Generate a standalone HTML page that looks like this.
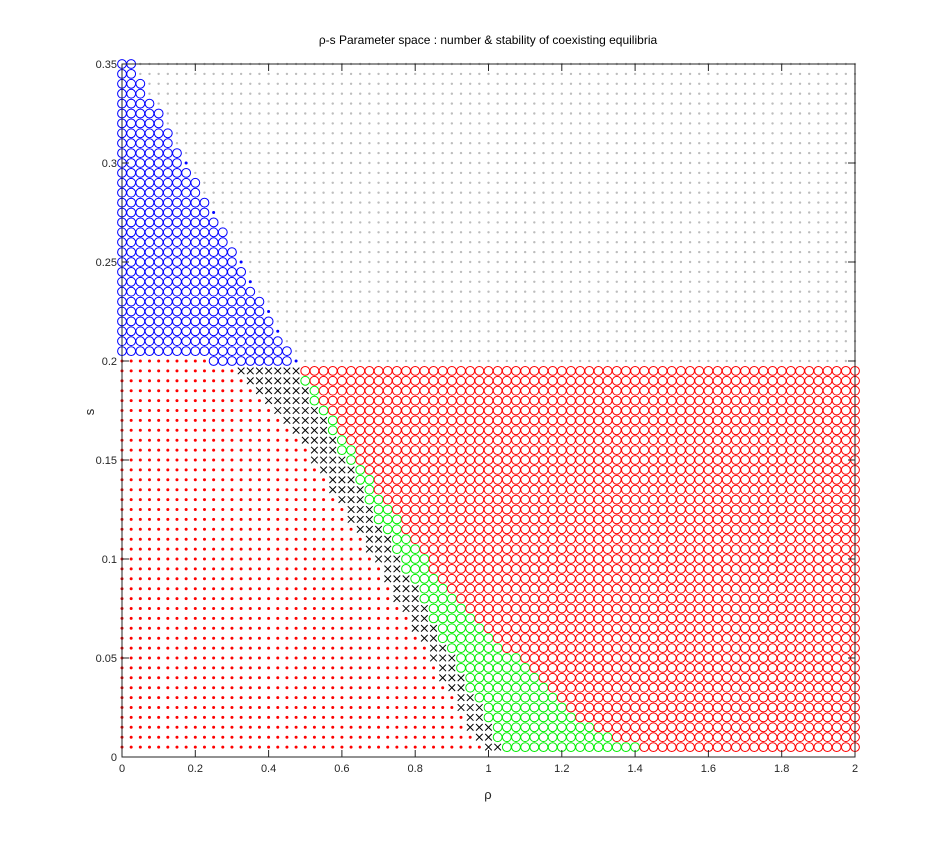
<!DOCTYPE html>
<html><head><meta charset="utf-8"><style>
body{margin:0;background:#fff;}
svg{display:block;font-family:"Liberation Sans",sans-serif;}
</style></head><body>
<svg id="chart" width="945" height="849" xmlns="http://www.w3.org/2000/svg">
<rect width="945" height="849" fill="#fff"/>
<g id="marks"></g>
<g id="axes"></g>
<text x="488" y="44" text-anchor="middle" font-size="12" fill="#000">ρ-s Parameter space : number &amp; stability of coexisting equilibria</text>
<text x="488" y="799" text-anchor="middle" font-size="13" fill="#262626">ρ</text>
<text x="94" y="412" text-anchor="middle" font-size="13" fill="#262626" transform="rotate(-90 94 412)">s</text>
</svg>
<script>
// grid: rho 0..2 step 0.025 (81 cols); s 0.005..0.35 step 0.005
const xTicks = [0,0.2,0.4,0.6,0.8,1,1.2,1.4,1.6,1.8,2];
const yTicks = [0,0.05,0.1,0.15,0.2,0.25,0.3,0.35];
const xTickLabels = ["0","0.2","0.4","0.6","0.8","1","1.2","1.4","1.6","1.8","2"];
const yTickLabels = ["0","0.05","0.1","0.15","0.2","0.25","0.3","0.35"];
// upper rows s=0.35 down to 0.205: number of blue circles, trailing blue dot flag
const upperS = [0.35,0.345,0.34,0.335,0.33,0.325,0.32,0.315,0.31,0.305,0.3,0.295,0.29,0.285,0.28,0.275,0.27,0.265,0.26,0.255,0.25,0.245,0.24,0.235,0.23,0.225,0.22,0.215,0.21,0.205];
const blueCount = [2,2,3,3,4,5,5,6,6,7,7,8,9,9,10,10,11,12,12,13,13,14,14,15,16,16,17,17,18,19];
const blueDot =   [0,0,0,0,0,0,0,0,0,0,1,0,0,0,0,1,0,0,0,0,1,0,1,0,0,1,0,1,0,0];
// row s=0.2: red dots, then blue circles, then blue dot, then grey
const midRedEnd = 10, midBlueEnd = 19;
// lower rows s=0.195 down to 0.005: start col of crosses, green circles, red circles
const lowerS = [0.195,0.19,0.185,0.18,0.175,0.17,0.165,0.16,0.155,0.15,0.145,0.14,0.135,0.13,0.125,0.12,0.115,0.11,0.105,0.1,0.095,0.09,0.085,0.08,0.075,0.07,0.065,0.06,0.055,0.05,0.045,0.04,0.035,0.03,0.025,0.02,0.015,0.01,0.005];
const crossStart = [13,14,15,16,17,18,19,20,21,21,22,23,23,24,25,25,26,27,27,28,29,29,30,30,31,32,32,33,34,34,35,35,36,37,37,38,38,39,40];
const greenStart = [20,20,21,21,22,23,23,24,24,25,26,26,27,27,28,28,29,30,30,31,31,32,33,33,34,34,35,35,36,37,37,38,38,39,40,40,41,41,42];
const redStart =   [20,21,22,22,23,24,24,25,26,26,27,28,28,29,30,31,31,32,33,34,34,35,36,37,38,39,40,41,42,44,45,46,47,48,49,50,52,54,57];
const NCOLS = 81, DX = 0.025;

const X0=122,X1=855,Y0=757,Y1=64;
const sx = v => X0 + (X1-X0)*v/2;
const sy = v => Y0 - (Y0-Y1)*v/0.35;
const NS="http://www.w3.org/2000/svg";
const marks=document.getElementById('marks');
function mk(tag,attrs){const e=document.createElementNS(NS,tag);for(const k in attrs)e.setAttribute(k,attrs[k]);return e;}
function dot(x,y,col,r,name){const e=mk('circle',{cx:sx(x),cy:sy(y),r:r,fill:col});


marks.appendChild(e);}
function ring(x,y,col,name){const e=mk('circle',{cx:sx(x),cy:sy(y),r:4.4,fill:'none',stroke:col,'stroke-width':1});


marks.appendChild(e);}
function cross(x,y){const cx=sx(x),cy=sy(y),d=3.3;const e=mk('path',{d:`M${cx-d} ${cy-d}L${cx+d} ${cy+d}M${cx-d} ${cy+d}L${cx+d} ${cy-d}`,stroke:'#000','stroke-width':1,fill:'none'});


marks.appendChild(e);}

upperS.forEach((s,i)=>{for(let c=0;c<NCOLS;c++){const x=c*DX;
 if(c<blueCount[i]) ring(x,s,'#0000ff','blue-circle');
 else if(c===blueCount[i]&&blueDot[i]) dot(x,s,'#0000ff',1.5,'blue-dot');
 else dot(x,s,'#bdbdbd',1.2,'grey-dot');}});
for(let c=0;c<NCOLS;c++){const x=c*DX,s=0.2;
 if(c<midRedEnd) dot(x,s,'#ff0000',1.5,'red-dot');
 else if(c<midBlueEnd) ring(x,s,'#0000ff','blue-circle');
 else if(c===midBlueEnd) dot(x,s,'#0000ff',1.5,'blue-dot');
 else dot(x,s,'#bdbdbd',1.2,'grey-dot');}
lowerS.forEach((s,i)=>{for(let c=0;c<NCOLS;c++){const x=c*DX;
 if(c<crossStart[i]) dot(x,s,'#ff0000',1.5,'red-dot');
 else if(c<greenStart[i]) cross(x,s);
 else if(c<redStart[i]) ring(x,s,'#00ee00','green-circle');
 else ring(x,s,'#ff0000','red-circle');}});

const axes=document.getElementById('axes');
function add(e,name){axes.appendChild(e);}
let fr=mk('rect',{x:X0,y:Y1,width:X1-X0,height:Y0-Y1,fill:'none',stroke:'#262626','stroke-width':1});


axes.appendChild(fr);
xTicks.forEach((t,i)=>{const x=sx(t);
 const l=mk('path',{d:`M${x} ${Y0}V${Y0-7}M${x} ${Y1}V${Y1+7}`,stroke:'#262626','stroke-width':1});
 
 
 axes.appendChild(l);
 const tx=mk('text',{x:x,y:Y0+15,'text-anchor':'middle','font-size':11,fill:'#262626'});tx.textContent=xTickLabels[i];
 
 
 axes.appendChild(tx);});
yTicks.forEach((t,i)=>{const y=sy(t);
 const l=mk('path',{d:`M${X0} ${y}H${X0+7}M${X1} ${y}H${X1-7}`,stroke:'#262626','stroke-width':1});
 
 
 axes.appendChild(l);
 const tx=mk('text',{x:X0-5,y:y+4,'text-anchor':'end','font-size':11,fill:'#262626'});tx.textContent=yTickLabels[i];
 
 
 axes.appendChild(tx);});
</script>
</body></html>
